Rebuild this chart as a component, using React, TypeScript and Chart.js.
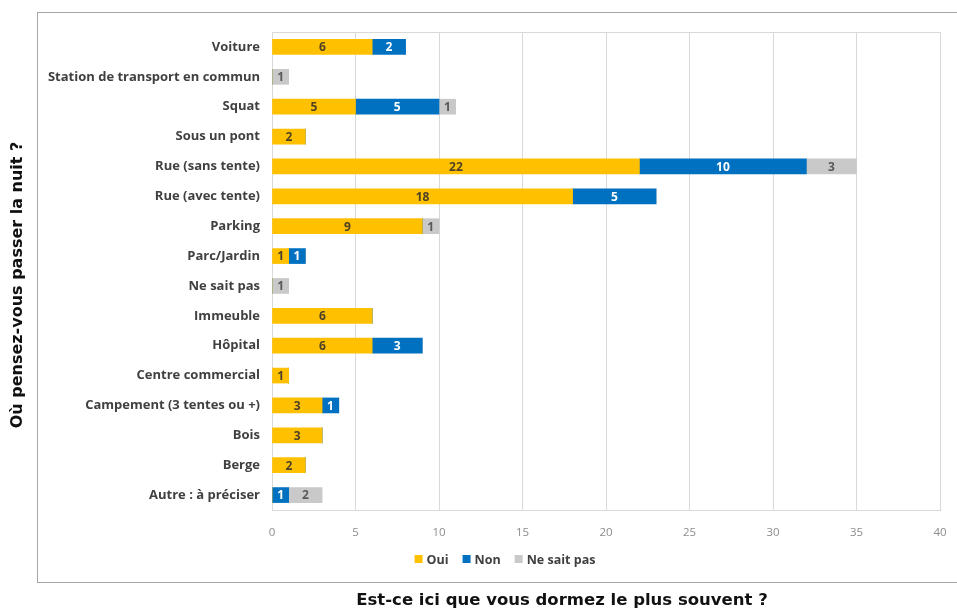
import React, { useEffect, useRef } from "react";
import { Chart, registerables } from "chart.js";

Chart.register(...registerables);

const categories = [
  "Voiture",
  "Station de transport en commun",
  "Squat",
  "Sous un pont",
  "Rue (sans tente)",
  "Rue (avec tente)",
  "Parking",
  "Parc/Jardin",
  "Ne sait pas",
  "Immeuble",
  "Hôpital",
  "Centre commercial",
  "Campement (3 tentes ou +)",
  "Bois",
  "Berge",
  "Autre : à préciser",
];
const oui = [6, 0, 5, 2, 22, 18, 9, 1, 0, 6, 6, 1, 3, 3, 2, 0];
const non = [2, 0, 5, 0, 10, 5, 0, 1, 0, 0, 3, 0, 1, 0, 0, 1];
const nsp = [0, 1, 1, 0, 3, 0, 1, 0, 1, 0, 0, 0, 0, 0, 0, 2];
const seriesNames = ["Oui", "Non", "Ne sait pas"];
const seriesColors = ["#FFC000", "#0070C0", "#C9C9C9"];
const labelColors = ["#4d4226", "#ffffff", "#595959"];
const xTitle = "Est-ce ici que vous dormez le plus souvent ?";
const yTitle = "Où pensez-vous passer la nuit ?";

const FONT = "'Open Sans', 'DejaVu Sans', sans-serif";

const decorPlugin = {
  id: "decor",
  beforeDraw(chart: any) {
    const { ctx, chartArea } = chart;
    ctx.save();
    ctx.fillStyle = "#ffffff";
    ctx.fillRect(0, 0, chart.width, chart.height);
    ctx.strokeStyle = "#a6a6a6";
    ctx.lineWidth = 1;
    ctx.strokeRect(37.5, 12.5, 1000, 570);
    ctx.strokeStyle = "#d9d9d9";
    ctx.strokeRect(
      Math.round(chartArea.left) + 0.5,
      Math.round(chartArea.top) + 0.5,
      Math.round(chartArea.right - chartArea.left),
      Math.round(chartArea.bottom - chartArea.top)
    );
    ctx.restore();
  },
  afterDraw(chart: any) {
    const { ctx } = chart;
    ctx.save();
    ctx.fillStyle = "#111111";
    ctx.font = `bold 16.5px 'DejaVu Sans', sans-serif`;
    ctx.textAlign = "center";
    ctx.textBaseline = "middle";
    ctx.fillText(xTitle, 562, 601);
    ctx.save();
    ctx.translate(18, 285);
    ctx.rotate(-Math.PI / 2);
    ctx.font = `bold 16px 'DejaVu Sans', sans-serif`;
    ctx.fillText(yTitle, 0, 0);
    ctx.restore();
    ctx.font = `bold 12.5px ${FONT}`;
    ctx.textAlign = "left";
    const box = 8;
    const gap = 4;
    const itemGap = 14;
    const widths = seriesNames.map((n) => box + gap + ctx.measureText(n).width);
    const total = widths.reduce((a, b) => a + b, 0) + itemGap * (widths.length - 1);
    let x = 505 - total / 2;
    const y = 559;
    seriesNames.forEach((n, i) => {
      ctx.fillStyle = seriesColors[i];
      ctx.fillRect(x, y - box / 2, box, box);
      ctx.fillStyle = "#404040";
      ctx.fillText(n, x + box + gap, y + 1);
      x += widths[i] + itemGap;
    });
    ctx.restore();
  },
  afterDatasetsDraw(chart: any) {
    const { ctx } = chart;
    ctx.save();
    ctx.font = `bold 12px ${FONT}`;
    ctx.textAlign = "center";
    ctx.textBaseline = "middle";
    chart.data.datasets.forEach((ds: any, di: number) => {
      const meta = chart.getDatasetMeta(di);
      meta.data.forEach((el: any, i: number) => {
        const v = ds.data[i];
        if (!v) return;
        ctx.fillStyle = labelColors[di];
        ctx.fillText(String(v), (el.x + el.base) / 2, el.y + 1);
      });
    });
    ctx.restore();
  },
};

export default function App() {
  const ref = useRef<HTMLCanvasElement>(null);
  useEffect(() => {
    if (!ref.current) return;
    const chart = new Chart(ref.current, {
      type: "bar",
      data: {
        labels: categories,
        datasets: [oui, non, nsp].map((d, i) => ({
          label: seriesNames[i],
          data: d,
          backgroundColor: seriesColors[i],
          barThickness: 15,
          borderWidth: 0,
        })),
      },
      options: {
        indexAxis: "y",
        animation: false,
        responsive: false,
        maintainAspectRatio: false,
        layout: { padding: { left: 0, top: 32, right: 0, bottom: 70 } },
        plugins: {
          legend: { display: false },
          tooltip: { enabled: false },
          title: { display: false },
        },
        scales: {
          x: {
            stacked: true,
            min: 0,
            max: 40,
            ticks: {
              stepSize: 5,
              color: "#8c8c8c",
              font: { family: FONT, size: 11.5 },
              padding: 16,
            },
            grid: { color: "#d9d9d9", drawTicks: false },
            border: { display: false },
            afterFit: (s: any) => {
              s.height = 30;
              s.paddingRight = 17;
            },
          },
          y: {
            stacked: true,
            ticks: {
              color: "#404040",
              font: { family: FONT, size: 13, weight: "bold" },
              padding: 12,
              autoSkip: false,
            },
            grid: { display: false, drawTicks: false },
            border: { display: false },
            afterFit: (s: any) => {
              s.width = 272;
            },
          },
        },
      },
      plugins: [decorPlugin],
    } as any);
    return () => chart.destroy();
  }, []);
  return (
    <div style={{ position: "fixed", left: 0, top: 0, width: 957, height: 610, background: "#fff" }}>
      <canvas ref={ref} width={957} height={610} style={{ width: 957, height: 610 }} />
    </div>
  );
}
